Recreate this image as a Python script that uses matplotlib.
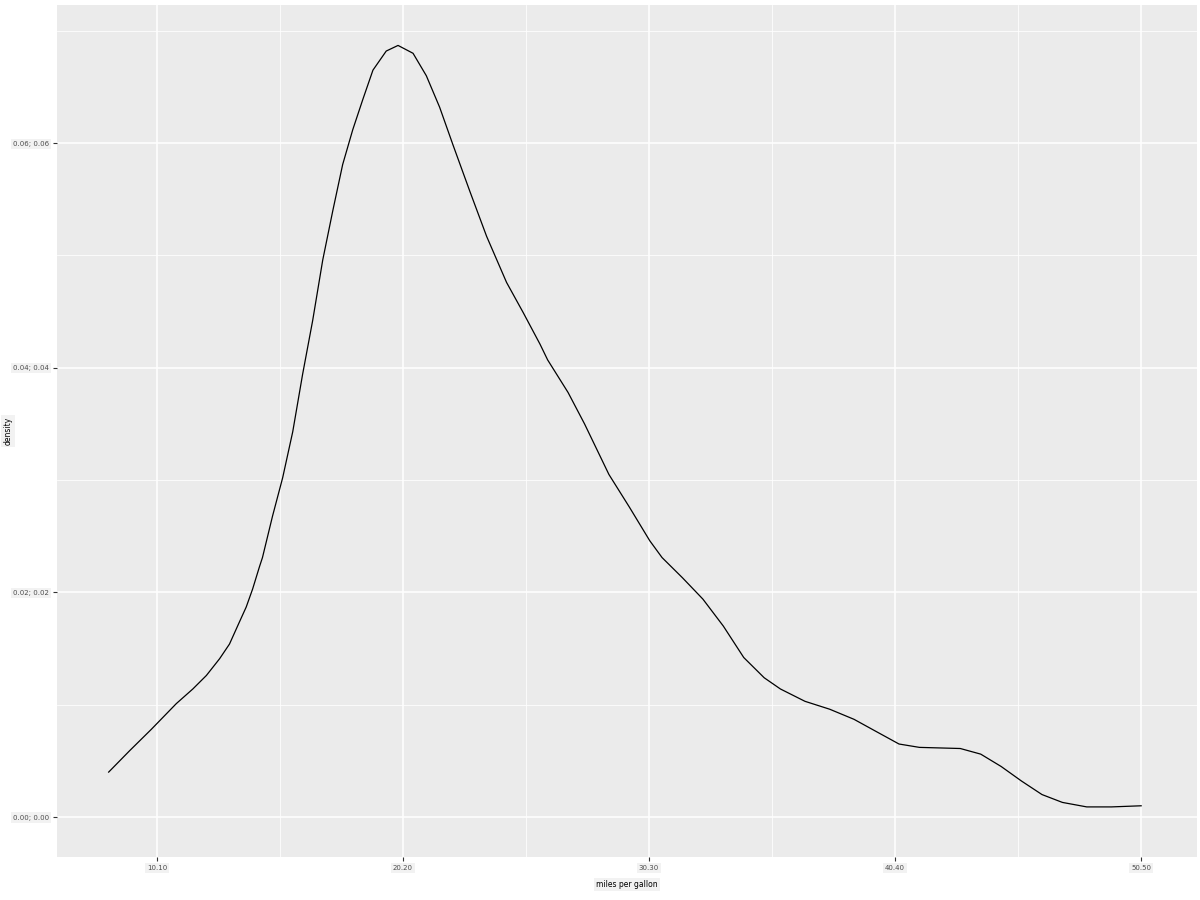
import matplotlib
matplotlib.use("Agg")
import matplotlib.pyplot as plt

x_vals = [8.04, 8.89, 9.77, 10.79, 11.46, 12.01, 12.55, 12.95, 13.34, 13.63, 13.89,
          14.17, 14.29, 14.70, 15.11, 15.52, 15.92, 16.33, 16.74, 17.15, 17.55,
          17.96, 18.37, 18.78, 19.32, 19.80, 20.41, 20.95, 21.49, 22.04, 22.72,
          23.40, 24.21, 24.89, 25.57, 25.88, 26.71, 27.38, 28.37, 29.20, 30.03,
          30.53, 31.36, 32.19, 33.02, 33.85, 34.68, 35.34, 36.34, 37.34, 38.33,
          39.16, 40.16, 40.99, 42.65, 43.48, 44.31, 45.14, 45.97, 46.80, 47.79,
          48.79, 50.0]
density = [0.0040, 0.0059, 0.0078, 0.0101, 0.0114, 0.0126, 0.0141, 0.0154, 0.0173,
           0.0187, 0.0203, 0.0223, 0.0231, 0.0268, 0.0302, 0.0343, 0.0394, 0.0442,
           0.0496, 0.0540, 0.0581, 0.0612, 0.0639, 0.0665, 0.0682, 0.0687, 0.0680,
           0.0660, 0.0632, 0.0598, 0.0557, 0.0517, 0.0476, 0.0449, 0.0421, 0.0407,
           0.0378, 0.0350, 0.0305, 0.0276, 0.0246, 0.0231, 0.0213, 0.0194, 0.0170,
           0.0142, 0.0124, 0.0114, 0.0103, 0.0096, 0.0087, 0.0077, 0.0065, 0.0062,
           0.0061, 0.0056, 0.0045, 0.0032, 0.0020, 0.0013, 0.0009, 0.0009, 0.0010]
x_ticks = [10, 20, 30, 40, 50]
x_tick_labels = ["10.10", "20.20", "30.30", "40.40", "50.50"]
y_ticks = [0.00, 0.02, 0.04, 0.06]
y_tick_labels = ["0.00; 0.00", "0.02; 0.02", "0.04; 0.04", "0.06; 0.06"]
x_label = "miles per gallon"
y_label = "density"

fig = plt.figure(figsize=(12, 9), dpi=100)
ax = fig.add_axes([57/1200, 43/900, 1140/1200, 852/900])
ax.set_facecolor("#EBEBEB")
ax.plot(x_vals, density, color="black", lw=0.9, solid_joinstyle="round")

ax.set_xlim(5.94, 52.27)
ax.set_ylim(-0.00356, 0.0723)
ax.set_xticks(x_ticks)
ax.set_xticklabels(x_tick_labels)
ax.set_yticks(y_ticks)
ax.set_yticklabels(y_tick_labels)
ax.set_xticks([15, 25, 35, 45], minor=True)
ax.set_yticks([0.01, 0.03, 0.05, 0.07], minor=True)
ax.grid(which="major", color="white", lw=1.1)
ax.grid(which="minor", color="white", lw=0.55)
ax.set_axisbelow(True)
for s in ax.spines.values():
    s.set_visible(False)
ax.tick_params(which="major", length=2.7, width=0.8, color="#333333",
               labelsize=5, labelcolor="#4D4D4D", pad=3)
ax.tick_params(which="minor", length=0)
for lab in ax.get_xticklabels() + ax.get_yticklabels():
    lab.set_bbox(dict(facecolor="#F2F2F2", edgecolor="none", pad=1.5))
ax.set_xlabel(x_label, fontsize=5.5, color="black",
              bbox=dict(facecolor="#F2F2F2", edgecolor="none", pad=1.5))
ax.set_ylabel(y_label, fontsize=5.5, color="black",
              bbox=dict(facecolor="#F2F2F2", edgecolor="none", pad=1.5))
ax.xaxis.set_label_coords(0.5, -0.027)
ax.yaxis.set_label_coords(-0.039, 0.5)

fig.savefig("out.png", dpi=100)
